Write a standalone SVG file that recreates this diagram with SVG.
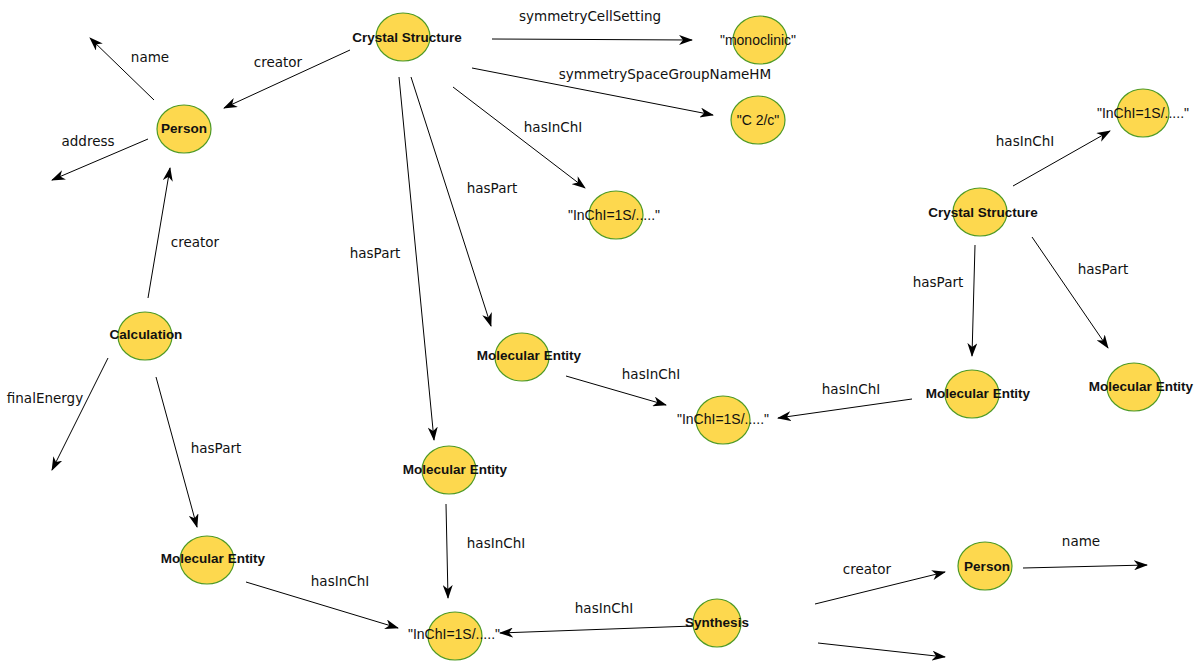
<svg xmlns="http://www.w3.org/2000/svg" width="1200" height="669" viewBox="0 0 1200 669">
<defs>
<marker id="arr" viewBox="0 0 14 10" refX="13" refY="5" markerWidth="14" markerHeight="10" markerUnits="userSpaceOnUse" orient="auto">
<path d="M0,0 L14,5 L0,10 L4,5 z" fill="#000"/>
</marker>
<style>
.n ellipse{fill:#fdd84e;stroke:#4f9a26;stroke-width:1.2}
.nt{font-family:"Liberation Sans",Arial,sans-serif;font-weight:bold;font-size:13.5px;fill:#111;text-anchor:middle;dominant-baseline:central}
.vt{font-family:"Liberation Sans",Arial,sans-serif;font-size:14px;fill:#111;text-anchor:middle;dominant-baseline:central}
.el{font-family:"DejaVu Sans",sans-serif;font-size:13.5px;fill:#111;text-anchor:middle;dominant-baseline:central}
.c line{stroke:#000;stroke-width:1;marker-end:url(#arr)}
</style>
</defs>
<rect width="1200" height="669" fill="#fff"/>
<g id="connectors" class="c">
<line x1="154" y1="100" x2="90" y2="38"/>
<line x1="148" y1="139" x2="52" y2="180"/>
<line x1="350" y1="50" x2="224" y2="108"/>
<line x1="148" y1="298" x2="170" y2="168"/>
<line x1="108" y1="358" x2="52" y2="470"/>
<line x1="156" y1="377" x2="197" y2="527"/>
<line x1="246" y1="582" x2="398" y2="628"/>
<line x1="446" y1="504" x2="448" y2="598"/>
<line x1="693" y1="626" x2="500" y2="633"/>
<line x1="815" y1="604" x2="945" y2="572"/>
<line x1="818" y1="643" x2="945" y2="657"/>
<line x1="1023" y1="568" x2="1147" y2="565"/>
<line x1="492" y1="39" x2="692" y2="40"/>
<line x1="472" y1="68" x2="713" y2="115"/>
<line x1="453" y1="87" x2="585" y2="188"/>
<line x1="411" y1="77" x2="491" y2="326"/>
<line x1="399" y1="77" x2="434" y2="440"/>
<line x1="566" y1="376" x2="666" y2="405"/>
<line x1="912" y1="399" x2="778" y2="418"/>
<line x1="1013" y1="186" x2="1110" y2="131"/>
<line x1="975" y1="245" x2="972" y2="356"/>
<line x1="1032" y1="237" x2="1108" y2="348"/>
</g>
<g id="edge-labels">
<text class="el" x="150" y="57">name</text>
<text class="el" x="88" y="141">address</text>
<text class="el" x="278" y="62">creator</text>
<text class="el" x="195" y="242">creator</text>
<text class="el" x="45" y="398">finalEnergy</text>
<text class="el" x="216" y="448">hasPart</text>
<text class="el" x="340" y="581">hasInChI</text>
<text class="el" x="496" y="543">hasInChI</text>
<text class="el" x="604" y="608">hasInChI</text>
<text class="el" x="867" y="569">creator</text>
<text class="el" x="1081" y="541">name</text>
<text class="el" x="590" y="16">symmetryCellSetting</text>
<text class="el" x="665" y="74">symmetrySpaceGroupNameHM</text>
<text class="el" x="553" y="127">hasInChI</text>
<text class="el" x="492" y="188">hasPart</text>
<text class="el" x="375" y="253">hasPart</text>
<text class="el" x="651" y="374">hasInChI</text>
<text class="el" x="851" y="389">hasInChI</text>
<text class="el" x="1025" y="141">hasInChI</text>
<text class="el" x="938" y="282">hasPart</text>
<text class="el" x="1103" y="269">hasPart</text>
</g>
<g id="crystal1" class="n"><ellipse cx="403" cy="37" rx="27" ry="24"/><text class="nt" x="407" y="37">Crystal Structure</text></g>
<g id="monoclinic" class="n"><ellipse cx="760" cy="40" rx="27" ry="24"/><text class="vt" x="758" y="40">"monoclinic"</text></g>
<g id="c2c" class="n"><ellipse cx="758" cy="120" rx="27" ry="24"/><text class="vt" x="758" y="120">"C 2/c"</text></g>
<g id="inchi1" class="n"><ellipse cx="616" cy="215" rx="27" ry="24"/><text class="vt" x="614" y="215">"InChI=1S/....."</text></g>
<g id="person1" class="n"><ellipse cx="184" cy="129" rx="27" ry="24"/><text class="nt" x="184" y="128">Person</text></g>
<g id="calculation" class="n"><ellipse cx="145" cy="336" rx="27" ry="24"/><text class="nt" x="146" y="334">Calculation</text></g>
<g id="molent1" class="n"><ellipse cx="207" cy="560" rx="27" ry="24"/><text class="nt" x="213" y="558">Molecular Entity</text></g>
<g id="molent2" class="n"><ellipse cx="522" cy="357" rx="27" ry="24"/><text class="nt" x="529" y="355">Molecular Entity</text></g>
<g id="molent3" class="n"><ellipse cx="449" cy="470" rx="27" ry="24"/><text class="nt" x="455" y="469">Molecular Entity</text></g>
<g id="inchi2" class="n"><ellipse cx="723" cy="420" rx="27" ry="24"/><text class="vt" x="723" y="419">"InChI=1S/....."</text></g>
<g id="inchi3" class="n"><ellipse cx="455" cy="636" rx="27" ry="24"/><text class="vt" x="454" y="634">"InChI=1S/....."</text></g>
<g id="crystal2" class="n"><ellipse cx="980" cy="212" rx="27" ry="24"/><text class="nt" x="983" y="212">Crystal Structure</text></g>
<g id="inchi4" class="n"><ellipse cx="1143" cy="113" rx="26" ry="24"/><text class="vt" x="1143" y="113">"InChI=1S/....."</text></g>
<g id="molent4" class="n"><ellipse cx="972" cy="394" rx="27" ry="24"/><text class="nt" x="978" y="393">Molecular Entity</text></g>
<g id="molent5" class="n"><ellipse cx="1134" cy="387" rx="27" ry="24"/><text class="nt" x="1141" y="386">Molecular Entity</text></g>
<g id="person2" class="n"><ellipse cx="985" cy="566" rx="27" ry="24"/><text class="nt" x="987" y="566">Person</text></g>
<g id="synthesis" class="n"><ellipse cx="717" cy="623" rx="24" ry="24"/><text class="nt" x="717" y="622">Synthesis</text></g>
</svg>
